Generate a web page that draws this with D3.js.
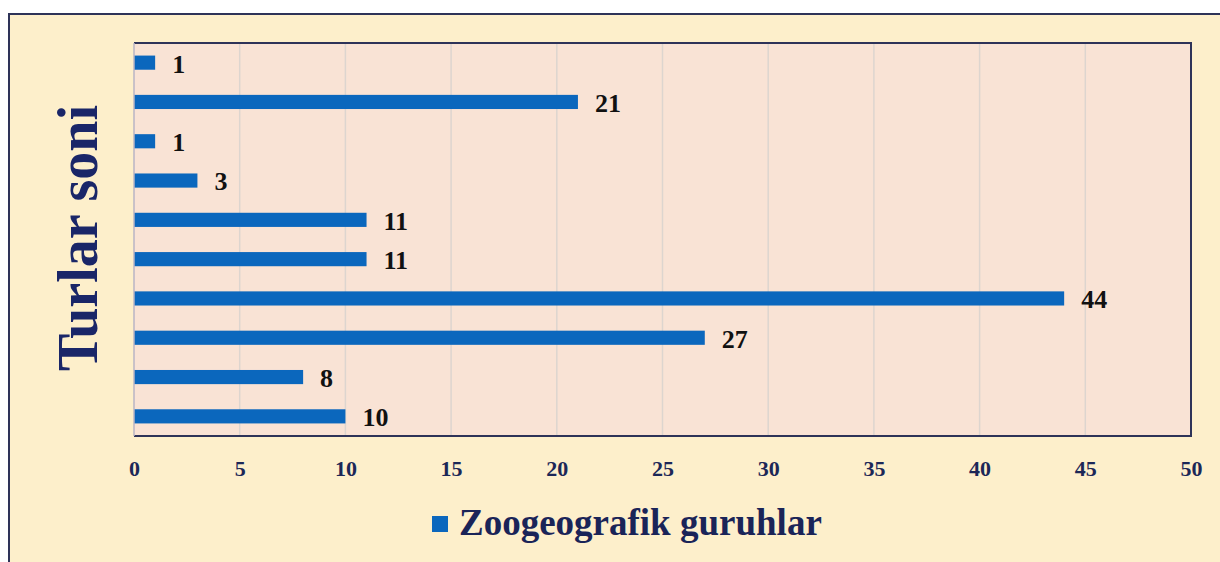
<!DOCTYPE html>
<html>
<head>
<meta charset="utf-8">
<script src="https://cdn.jsdelivr.net/npm/d3@7"></script>
<style>
  body { margin: 0; background: #ffffff; }
  svg { display: block; }
</style>
</head>
<body>
<script>
// data, top to bottom
var categories = ["g1", "g2", "g3", "g4", "g5", "g6", "g7", "g8", "g9", "g10"];
var values = [1, 21, 1, 3, 11, 11, 44, 27, 8, 10];
var xTicks = [0, 5, 10, 15, 20, 25, 30, 35, 40, 45, 50];
var seriesName = "Zoogeografik guruhlar";
var axisTitle = "Turlar soni";

var W = 1220, H = 562;
var plot = {left: 134, top: 43, right: 1191, bottom: 436};
var serif = "'Liberation Serif', 'Times New Roman', serif";

var svg = d3.select("body").append("svg")
    .attr("width", W)
    .attr("height", H);

// outer frame
svg.append("rect")
    .attr("x", 9).attr("y", 14)
    .attr("width", W - 8).attr("height", H - 13)
    .attr("fill", "#fdefcb")
    .attr("stroke", "#2e3358")
    .attr("stroke-width", 2);

var x = d3.scaleLinear()
    .domain([0, 50])
    .range([plot.left, plot.right]);

var y = d3.scaleBand()
    .domain(categories)
    .range([plot.top, plot.bottom])
    .paddingInner(0.64)
    .paddingOuter(0.32);

// plot background
svg.append("rect")
    .attr("x", plot.left).attr("y", plot.top)
    .attr("width", plot.right - plot.left)
    .attr("height", plot.bottom - plot.top)
    .attr("fill", "#f9e3d5");

// gridlines
svg.append("g")
    .selectAll("line")
    .data(xTicks.slice(1, -1))
    .enter().append("line")
    .attr("x1", function(d) { return x(d); })
    .attr("x2", function(d) { return x(d); })
    .attr("y1", plot.top)
    .attr("y2", plot.bottom)
    .attr("stroke", "#ddd5cf")
    .attr("stroke-width", 1.5);

// bars
svg.append("g")
    .selectAll("rect")
    .data(values)
    .enter().append("rect")
    .attr("x", x(0))
    .attr("y", function(d, i) { return y(categories[i]); })
    .attr("width", function(d) { return x(d) - x(0); })
    .attr("height", y.bandwidth())
    .attr("fill", "#0b67bd");

// value labels
svg.append("g")
    .selectAll("text")
    .data(values)
    .enter().append("text")
    .attr("x", function(d) { return x(d) + 17; })
    .attr("y", function(d, i) { return y(categories[i]) + y.bandwidth() / 2; })
    .attr("dy", "0.38em")
    .attr("font-family", serif)
    .attr("font-weight", "bold")
    .attr("font-size", "26px")
    .attr("fill", "#111111")
    .text(function(d) { return d; });

// plot border: top, right, bottom dark, left lighter
svg.append("path")
    .attr("d", "M" + plot.left + "," + plot.top + "H" + plot.right + "V" + plot.bottom + "H" + plot.left)
    .attr("fill", "none")
    .attr("stroke", "#2e3358")
    .attr("stroke-width", 2);
svg.append("line")
    .attr("x1", plot.left).attr("x2", plot.left)
    .attr("y1", plot.top).attr("y2", plot.bottom)
    .attr("stroke", "#b9b4c4")
    .attr("stroke-width", 1.5);

// x axis labels
var xAxis = svg.append("g")
    .attr("transform", "translate(0," + (plot.bottom + 24) + ")")
    .call(d3.axisBottom(x).tickValues(xTicks).tickSize(0).tickPadding(0));
xAxis.select(".domain").remove();
xAxis.selectAll("text")
    .attr("font-family", serif)
    .attr("font-weight", "bold")
    .attr("font-size", "22px")
    .attr("fill", "#1c2757");

// y axis title
svg.append("text")
    .attr("transform", "translate(97,238) rotate(-90)")
    .attr("text-anchor", "middle")
    .attr("font-family", serif)
    .attr("font-weight", "bold")
    .attr("font-size", "56px")
    .attr("fill", "#1a2668")
    .text(axisTitle);

// legend
var legend = svg.append("g").attr("transform", "translate(432,516)");
legend.append("rect")
    .attr("width", 16).attr("height", 16)
    .attr("fill", "#0b67bd");
legend.append("text")
    .attr("x", 27).attr("y", 19)
    .attr("font-family", serif)
    .attr("font-weight", "bold")
    .attr("font-size", "37px")
    .attr("fill", "#1a2458")
    .text(seriesName);
</script>
</body>
</html>
